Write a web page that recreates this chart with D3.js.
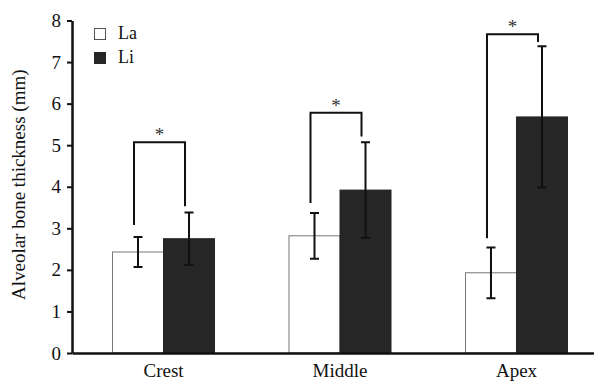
<!DOCTYPE html>
<html lang="en">
<head>
    <meta charset="UTF-8">
    <title>Alveolar bone thickness</title>
    <script src="https://d3js.org/d3.v7.min.js"></script>
    <style>
        body { margin: 0; background: #fff; }
        svg text { font-family: "Liberation Serif", "Times New Roman", Times, serif; fill: #111; }
    </style>
</head>
<body>
    <div id="chart-container"></div>
    <script>
        // Data
        const categories = ["Crest", "Middle", "Apex"];
        const groups = ["La", "Li"];
        const laMean = [2.43, 2.82, 1.93];
        const laSD = [0.36, 0.55, 0.61];
        const liMean = [2.75, 3.92, 5.68];
        const liSD = [0.63, 1.15, 1.70];
        const yTicks = [0, 1, 2, 3, 4, 5, 6, 7, 8];

        // significance brackets (in mm): top of bracket, bottom of each leg
        const bracketTop = [5.07, 5.78, 7.67];
        const laLegEnd = [3.08, 3.61, 2.76];
        const liLegEnd = [3.53, 5.21, 7.48];

        const width = 594;
        const height = 385;
        const serif = '"Liberation Serif", "Times New Roman", Times, serif';

        const svg = d3.select("#chart-container")
            .append("svg")
            .attr("width", width)
            .attr("height", height)
            .attr("font-family", serif);

        // Scales
        const x0 = d3.scaleBand()
            .domain(categories)
            .range([72, 608])
            .paddingInner(0.422)
            .paddingOuter(0.2295);

        const x1 = d3.scaleBand()
            .domain(groups)
            .range([0, x0.bandwidth()]);

        const y = d3.scaleLinear()
            .domain([0, 8])
            .range([353, 20.5]);

        const rows = categories.map((c, i) => ({
            cat: c,
            vals: [
                { g: "La", mean: laMean[i], sd: laSD[i] },
                { g: "Li", mean: liMean[i], sd: liSD[i] }
            ]
        }));

        // Bars
        const grp = svg.selectAll(".grp")
            .data(rows)
            .enter().append("g")
            .attr("class", "grp")
            .attr("transform", d => `translate(${x0(d.cat)},0)`);

        grp.selectAll("rect")
            .data(d => d.vals)
            .enter().append("rect")
            .attr("x", d => x1(d.g))
            .attr("y", d => y(d.mean))
            .attr("width", x1.bandwidth())
            .attr("height", d => y(0) - y(d.mean))
            .attr("fill", d => d.g === "La" ? "#fff" : "#262626")
            .attr("stroke", d => d.g === "La" ? "#777" : "#262626")
            .attr("stroke-width", 1);

        // Error bars
        const cap = 4.5;
        grp.selectAll(".err")
            .data(d => d.vals)
            .enter().append("path")
            .attr("class", "err")
            .attr("fill", "none")
            .attr("stroke", "#111")
            .attr("stroke-width", 2)
            .attr("d", d => {
                const cx = x1(d.g) + x1.bandwidth() / 2;
                const top = y(d.mean + d.sd), bot = y(d.mean - d.sd);
                return `M${cx - cap},${top}H${cx + cap}M${cx},${top}V${bot}M${cx - cap},${bot}H${cx + cap}`;
            });

        // Significance brackets
        categories.forEach((c, i) => {
            const lx = x0(c) + x1("La") + x1.bandwidth() / 2 - 4;
            const rx = x0(c) + x1("Li") + x1.bandwidth() / 2 - 4;
            svg.append("path")
                .attr("fill", "none")
                .attr("stroke", "#111")
                .attr("stroke-width", 2)
                .attr("d", `M${lx},${y(laLegEnd[i])}V${y(bracketTop[i])}H${rx}V${y(liLegEnd[i])}`);
            svg.append("text")
                .attr("x", (lx + rx) / 2)
                .attr("y", y(bracketTop[i]) - 1)
                .attr("text-anchor", "middle")
                .style("font-size", "19px")
                .style("fill", "#333")
                .text("*");
        });

        // Axes
        const xAxis = d3.axisBottom(x0).tickSize(0).tickPadding(11);
        const gx = svg.append("g")
            .attr("transform", `translate(0,${y(0)})`)
            .call(xAxis)
            .attr("font-family", serif);
        gx.select(".domain").attr("stroke", "#111").attr("stroke-width", 2.5);
        gx.selectAll("text").style("font-size", "19px").attr("dy", "0.71em");

        const yAxis = d3.axisLeft(y).tickValues(yTicks).tickSize(5).tickSizeOuter(0).tickPadding(6);
        const gy = svg.append("g")
            .attr("transform", "translate(72,0)")
            .call(yAxis)
            .attr("font-family", serif);
        gy.select(".domain").attr("stroke", "#111").attr("stroke-width", 2.5);
        gy.selectAll(".tick line").attr("stroke", "#111").attr("stroke-width", 2);
        gy.selectAll("text").style("font-size", "19px");

        svg.append("text")
            .attr("transform", "rotate(-90)")
            .attr("x", -y(4) + 2)
            .attr("y", 25)
            .attr("text-anchor", "middle")
            .style("font-size", "19px")
            .text("Alveolar bone thickness (mm)");

        // Legend
        const legend = svg.append("g").attr("transform", "translate(94,28)");
        groups.forEach((g, i) => {
            legend.append("rect")
                .attr("x", 0.5)
                .attr("y", i * 24 + 0.5)
                .attr("width", 11)
                .attr("height", 11)
                .attr("fill", g === "La" ? "#fff" : "#262626")
                .attr("stroke", g === "La" ? "#555" : "#262626");
            legend.append("text")
                .attr("x", 24)
                .attr("y", i * 24 + 11)
                .style("font-size", "18px")
                .text(g);
        });
    </script>
</body>
</html>
